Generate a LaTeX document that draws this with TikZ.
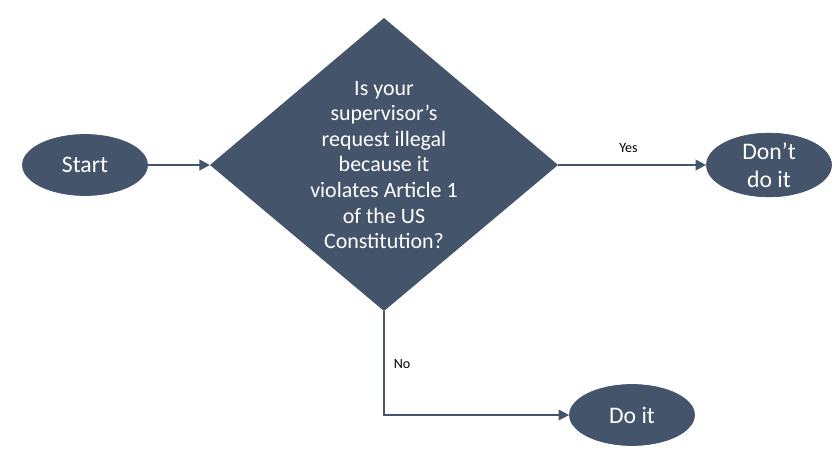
\documentclass[tikz,border=0pt]{standalone}
\usepackage{fontspec}
\setmainfont{Carlito}
\usetikzlibrary{arrows.meta,shapes.geometric}
\definecolor{dkblue}{HTML}{44546A}
\begin{document}
\begin{tikzpicture}[x=0.02cm,y=-0.02cm,
  term/.style={ellipse,fill=dkblue,draw=dkblue,minimum width=125*0.02cm,minimum height=61*0.02cm,inner sep=0pt,text=white,font=\fontsize{13.5}{16}\selectfont,align=center},
  conn/.style={draw=dkblue,line width=1.2pt,-{Triangle[length=6pt,width=6pt]}},
  lbl/.style={font=\fontsize{8}{10}\selectfont}]
\useasboundingbox (0,0) rectangle (840,453);
\node[term] (start) at (85,165) {Start};
\node[term] (dont) at (769,165) {Don’t\\do it};
\node[term] (do) at (632,415) {Do it};
\coordinate (dl) at (210,165);
\coordinate (dr) at (558,165);
\coordinate (dt) at (384,18);
\coordinate (db) at (384,311);
\coordinate (corner) at (384,415);
\fill[dkblue] (dl) -- (dt) -- (dr) -- (db) -- cycle;
\node[text=white,align=center,font=\fontsize{12.5}{14.6}\selectfont] (q) at (384,165)
 {Is your\\supervisor’s\\request illegal\\because it\\violates Article 1\\of the US\\Constitution?};
\draw[conn] (start) -- (dl);
\draw[conn] (dr) -- node[lbl,above=3pt,pos=0.5,xshift=-2pt] {Yes} (dont);
\draw[conn] (db) -- (corner) -- (do);
\node[lbl] at (402,364) {No};
\end{tikzpicture}
\end{document}
